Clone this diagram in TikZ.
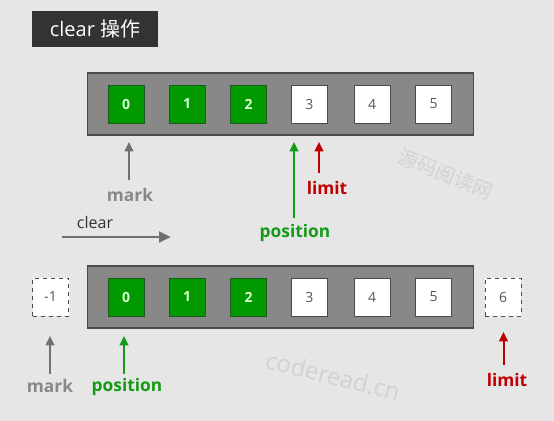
\documentclass[tikz,border=0pt]{standalone}
\usepackage{fontspec}
\setmainfont{Open Sans}
\newfontfamily\cjk{Noto Sans CJK SC}
\usetikzlibrary{arrows.meta}
\definecolor{bgc}{HTML}{E6E6E6}
\definecolor{barc}{HTML}{888888}
\definecolor{barb}{HTML}{4A4A4A}
\definecolor{cellg}{HTML}{009A00}
\definecolor{cellgb}{HTML}{1E5A1E}
\definecolor{cellgt}{HTML}{D8FFD0}
\definecolor{cellt}{HTML}{555555}
\definecolor{markc}{HTML}{888888}
\definecolor{markar}{HTML}{707070}
\definecolor{posc}{HTML}{159A15}
\definecolor{limc}{HTML}{C00000}
\definecolor{titlec}{HTML}{333333}
\definecolor{wmc}{HTML}{D2D2D2}
\tikzset{
  bar/.style={draw=barb, fill=barc, line width=0.8pt},
  cellbox/.style={draw=barb, line width=0.6pt, minimum width=27pt, minimum height=28.5pt, inner sep=0pt, font=\fontsize{10.5}{12}\selectfont},
  gcell/.style={cellbox, fill=cellg, draw=cellgb, text=cellgt, font=\fontsize{10.5}{12}\selectfont\bfseries},
  wcell/.style={cellbox, fill=white, text=cellt},
  dcell/.style={cellbox, fill=white, draw=black!70, dashed, text=cellt},
  lbl/.style={font=\fontsize{13}{15}\selectfont\bfseries, inner sep=0pt},
  uparrow/.style={line width=1.5pt, -{Triangle[length=7pt,width=6.5pt]}},
  wm/.style={text=wmc, inner sep=0pt}
}
\begin{document}
\begin{tikzpicture}[x=0.75pt, y=-0.75pt]
\fill[bgc] (0,0) rectangle (554,421);
\useasboundingbox (0,0) rectangle (554,421);
% title
\node[fill=titlec, text=white, minimum width=94.5pt, minimum height=27pt, inner sep=0pt, font=\fontsize{15}{18}\selectfont] (title) at (95,29) {clear {\cjk 操作}};
% watermarks
\node[wm, rotate=-22, font=\cjk\fontsize{15}{18}\selectfont] (wm1) at (446,174) {源码阅读网};
\node[wm, rotate=-14, font=\fontsize{18}{22}\selectfont] (wm2) at (333,376) {coderead.cn};
% top bar
\node[bar, minimum width=290pt, minimum height=46.5pt, inner sep=0pt] (bar1) at (280.5,104) {};
\node[gcell] (t0) at (126,104) {0};
\node[gcell] (t1) at (187,104) {1};
\node[gcell] (t2) at (248.5,104) {2};
\node[wcell] (t3) at (309.5,104) {3};
\node[wcell] (t4) at (372,104) {4};
\node[wcell] (t5) at (433.5,104) {5};
% top labels
\node[lbl, text=markc] (tmark) at (130,195) {mark};
\node[lbl, text=posc] (tpos) at (295,233) {position};
\node[lbl, text=limc] (tlim) at (327,188) {limit};
\coordinate (tmarkA) at (129,180);
\coordinate (tmarkB) at (129,142);
\coordinate (tposA) at (294,218);
\coordinate (tposB) at (294,142);
\coordinate (tlimA) at (319,173);
\coordinate (tlimB) at (319,142);
\draw[uparrow, markar] (tmarkA) -- (tmarkB);
\draw[uparrow, posc] (tposA) -- (tposB);
\draw[uparrow, limc] (tlimA) -- (tlimB);
% clear arrow
\node[font=\fontsize{12}{14}\selectfont, text=titlec, inner sep=0pt] (clr) at (95,222) {clear};
\coordinate (clrA) at (62,237);
\coordinate (clrB) at (171,237);
\draw[line width=2.2pt, markar, -{Triangle[length=9pt,width=8pt]}] (clrA) -- (clrB);
% bottom bar
\node[bar, minimum width=290pt, minimum height=46.5pt, inner sep=0pt] (bar2) at (280.5,297) {};
\node[dcell] (bm1) at (50.5,297) {-1};
\node[gcell] (b0) at (126,297) {0};
\node[gcell] (b1) at (187,297) {1};
\node[gcell] (b2) at (248.5,297) {2};
\node[wcell] (b3) at (309.5,297) {3};
\node[wcell] (b4) at (372,297) {4};
\node[wcell] (b5) at (433.5,297) {5};
\node[dcell] (b6) at (503,297) {6};
% bottom labels
\node[lbl, text=markc] (bmark) at (50,386) {mark};
\node[lbl, text=posc] (bpos) at (127,387) {position};
\node[lbl, text=limc] (blim) at (507,380) {limit};
\coordinate (bmarkA) at (50,374);
\coordinate (bmarkB) at (50,336);
\coordinate (bposA) at (124,374);
\coordinate (bposB) at (124,336);
\coordinate (blimA) at (503.5,365);
\coordinate (blimB) at (503.5,332);
\draw[uparrow, markar] (bmarkA) -- (bmarkB);
\draw[uparrow, posc] (bposA) -- (bposB);
\draw[uparrow, limc] (blimA) -- (blimB);
\end{tikzpicture}
\end{document}
